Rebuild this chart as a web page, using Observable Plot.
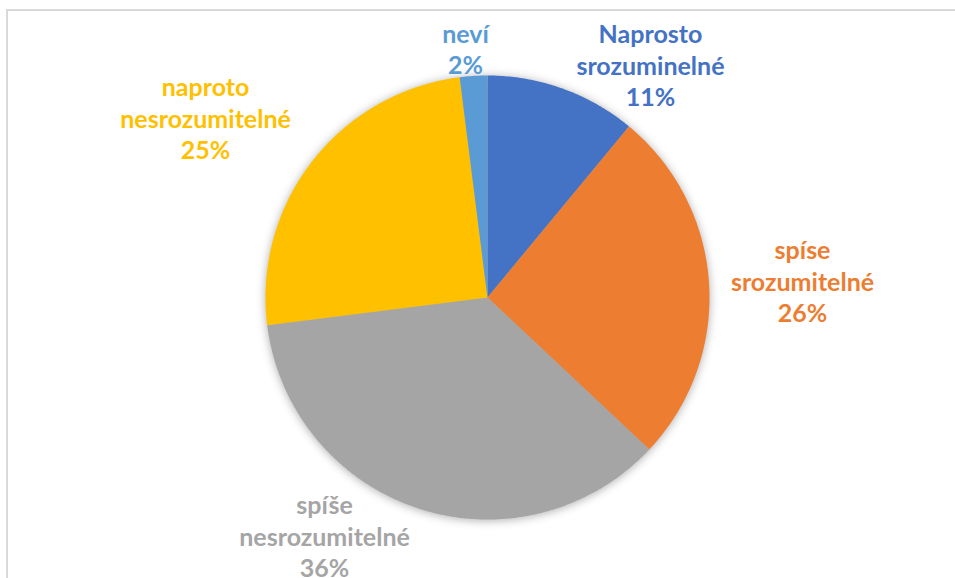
<!DOCTYPE html>
<html>
<head>
<meta charset="utf-8">
<script src="https://cdn.jsdelivr.net/npm/d3@7"></script>
<script src="https://cdn.jsdelivr.net/npm/@observablehq/plot@0.6"></script>
<style>
  html, body { margin: 0; padding: 0; background: #fff; overflow: hidden; }
  #wrap { position: relative; width: 955px; height: 578px; overflow: hidden; }
  #frame { position: absolute; left: 6px; top: 9px; width: 1000px; height: 700px;
           border: 2px solid #d9d9d9; box-sizing: border-box; }
  #chart { position: absolute; left: 0; top: 0; }
  #chart g[aria-label="geo"] { filter: drop-shadow(0px 1px 5px rgba(0,0,0,0.32)); }
</style>
</head>
<body>
<div id="wrap"><div id="frame"></div><div id="chart"></div></div>
<script>
// Data
const categories = ["Naprosto srozuminelné", "spíse srozumitelné", "spíše nesrozumitelné", "naproto nesrozumitelné", "neví"];
const labelLines = ["Naprosto\nsrozuminelné", "spíse\nsrozumitelné", "spíše\nnesrozumitelné", "naproto\nnesrozumitelné", "neví"];
const values = [11, 26, 36, 25, 2];
const colors = ["#4472C4", "#ED7D31", "#A5A5A5", "#FFC000", "#5B9BD5"];

// Label placement (layout, in pie-radius units relative to the pie centre; y down)
const labelX = [0.734, 1.419, -0.734, -1.270, -0.099];
const labelY = [-1.050, -0.077, 1.072, -0.811, -1.122];

const pie = d3.pie().sort(null).value(d => d.value)(
  categories.map((c, i) => ({name: c, value: values[i], color: colors[i]}))
);

// Build slice polygons from the pie angles (angle 0 = top, clockwise, y down)
const slices = pie.map(p => {
  const n = Math.max(2, Math.ceil((p.endAngle - p.startAngle) / 0.01));
  const ring = [[0, 0]];
  for (let k = 0; k <= n; k++) {
    const a = p.startAngle + (p.endAngle - p.startAngle) * k / n;
    ring.push([Math.sin(a), -Math.cos(a)]);
  }
  ring.push([0, 0]);
  return {type: "Feature", properties: {name: p.data.name, color: p.data.color, value: p.data.value},
          geometry: {type: "Polygon", coordinates: [ring]}};
});

const labels = categories.map((c, i) => ({
  text: labelLines[i] + "\n" + values[i] + "%",
  x: labelX[i], y: labelY[i], color: colors[i]
}));

const chart = Plot.plot({
  width: 955,
  height: 578,
  marginLeft: 265,
  marginRight: 246,
  marginTop: 75,
  marginBottom: 59,
  projection: {type: "identity", clip: false, domain: {type: "MultiPoint", coordinates: [[-1, -1], [1, 1]]}},
  style: {background: "transparent", overflow: "visible"},
  marks: [
    Plot.geo(slices, {fill: d => d.properties.color, stroke: "none"}),
    Plot.text(labels, {
      x: "x", y: "y", text: "text", fill: d => d.color,
      fontFamily: "Lato, 'Open Sans', sans-serif",
      fontWeight: "bold", fontSize: 25, lineHeight: 1.27,
      lineAnchor: "middle", textAnchor: "middle", clip: false
    })
  ]
});
document.getElementById("chart").appendChild(chart);
</script>
</body>
</html>
